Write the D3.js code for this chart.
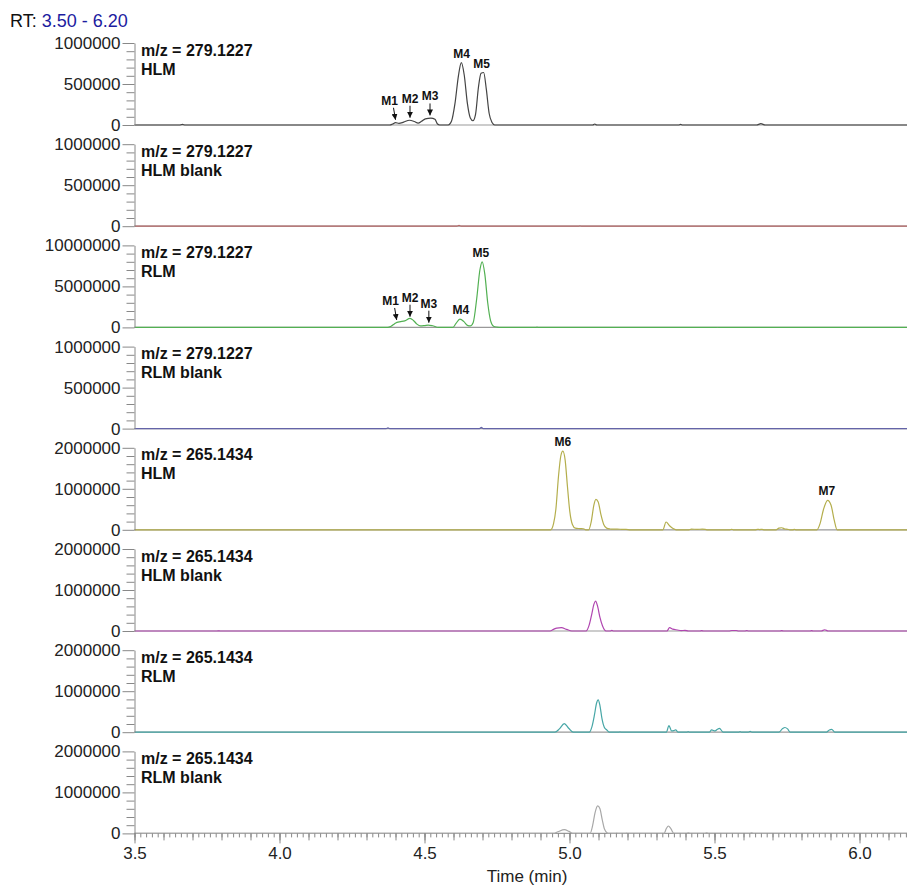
<!DOCTYPE html>
<html>
<head>
<meta charset="utf-8">
<script src="https://cdn.jsdelivr.net/npm/d3@7"></script>
<style>
  body { margin: 0; background: #fff; }
  svg { display: block; font-family: "Liberation Sans", Arial, sans-serif; }
</style>
</head>
<body>
<div id="chart"></div>
<script>
// retention time window and axis ticks
const timeRange = [3.5, 6.2];
const timeTicks = [3.5, 4.0, 4.5, 5.0, 5.5, 6.0];

// one panel per extracted ion chromatogram
const panelMass = ["m/z = 279.1227", "m/z = 279.1227", "m/z = 279.1227", "m/z = 279.1227",
  "m/z = 265.1434", "m/z = 265.1434", "m/z = 265.1434", "m/z = 265.1434"];
const panelSample = ["HLM", "HLM blank", "RLM", "RLM blank", "HLM", "HLM blank", "RLM", "RLM blank"];
const panelMax = [1000000, 1000000, 10000000, 1000000, 2000000, 2000000, 2000000, 2000000];

// traces, [time (min), intensity]
const hlm279 = [
  [3.50, 0], [3.655, 0], [3.665, 7000], [3.675, 0],
  [4.380, 0], [4.390, 12000], [4.400, 28000], [4.412, 20000], [4.428, 35000], [4.448, 58000], [4.465, 42000],
  [4.478, 22000], [4.490, 45000], [4.503, 75000], [4.522, 85000], [4.536, 70000], [4.545, 12000], [4.552, 0],
  [4.582, 0], [4.593, 45000], [4.605, 260000], [4.617, 600000], [4.627, 760000], [4.637, 610000], [4.648, 260000],
  [4.658, 85000], [4.667, 52000], [4.676, 130000], [4.686, 460000], [4.695, 630000], [4.704, 640000],
  [4.713, 440000], [4.723, 140000], [4.733, 30000], [4.742, 0],
  [5.080, 0], [5.087, 12000], [5.094, 0],
  [5.376, 0], [5.383, 7000], [5.390, 0],
  [5.645, 0], [5.660, 16000], [5.675, 0],
  [6.20, 0]
];
const hlmBlank279 = [
  [3.50, 0], [4.612, 0], [4.619, 9000], [4.626, 0], [5.030, 0], [5.036, 5000], [5.042, 0], [6.20, 0]
];
const rlm279 = [
  [3.50, 0], [4.372, 0], [4.385, 150000], [4.397, 450000], [4.405, 620000], [4.418, 700000], [4.432, 800000],
  [4.450, 1100000], [4.462, 850000], [4.474, 400000], [4.486, 180000], [4.500, 220000], [4.513, 280000],
  [4.528, 200000], [4.548, 0],
  [4.598, 0], [4.608, 450000], [4.622, 1000000], [4.636, 700000], [4.648, 250000], [4.658, 180000],
  [4.668, 600000], [4.680, 3500000], [4.691, 7000000], [4.699, 8000000], [4.708, 6500000], [4.718, 3000000],
  [4.728, 800000], [4.738, 150000], [4.750, 40000], [4.765, 0],
  [4.880, 0], [4.888, 25000], [4.896, 0],
  [5.500, 0], [5.510, 20000], [5.520, 0],
  [6.20, 0]
];
const rlmBlank279 = [
  [3.50, 0], [4.368, 0], [4.374, 8000], [4.380, 0], [4.690, 0], [4.696, 15000], [4.702, 0], [6.20, 0]
];
const hlm265 = [
  [3.50, 0], [4.935, 0], [4.945, 150000], [4.953, 500000], [4.962, 1300000], [4.970, 1800000], [4.977, 1920000],
  [4.985, 1700000], [4.993, 1050000], [5.001, 450000], [5.010, 130000], [5.020, 40000], [5.035, 30000],
  [5.048, 25000], [5.056, 0],
  [5.066, 0], [5.075, 200000], [5.084, 600000], [5.091, 740000], [5.099, 680000], [5.108, 380000],
  [5.118, 130000], [5.128, 40000], [5.140, 20000], [5.150, 15000], [5.165, 15000], [5.180, 12000],
  [5.195, 10000], [5.210, 0],
  [5.322, 0], [5.333, 190000], [5.345, 100000], [5.357, 30000], [5.368, 0],
  [5.412, 0], [5.420, 15000], [5.440, 12000], [5.458, 15000], [5.468, 10000], [5.476, 0],
  [5.553, 0], [5.559, 12000], [5.565, 0],
  [5.640, 0], [5.648, 12000], [5.656, 5000], [5.664, 12000], [5.672, 0],
  [5.712, 0], [5.722, 40000], [5.732, 50000], [5.742, 20000], [5.752, 12000], [5.760, 0],
  [5.770, 0], [5.775, 10000], [5.782, 0],
  [5.853, 0], [5.864, 150000], [5.876, 500000], [5.890, 720000], [5.902, 600000], [5.913, 230000], [5.923, 0],
  [6.20, 0]
];
const hlmBlank265 = [
  [3.50, 0], [3.785, 0], [3.790, 5000], [3.795, 0],
  [4.933, 0], [4.945, 40000], [4.956, 72000], [4.972, 80000], [4.990, 40000], [5.008, 0],
  [5.057, 0], [5.068, 150000], [5.077, 420000], [5.084, 650000], [5.090, 730000], [5.097, 600000],
  [5.105, 330000], [5.114, 120000], [5.126, 0],
  [5.140, 0], [5.146, 15000], [5.152, 0],
  [5.336, 0], [5.345, 80000], [5.356, 45000], [5.372, 25000], [5.385, 10000], [5.398, 15000], [5.410, 0],
  [5.450, 0], [5.456, 8000], [5.462, 0],
  [5.550, 0], [5.560, 12000], [5.575, 12000], [5.583, 0],
  [5.605, 0], [5.611, 10000], [5.617, 0],
  [5.726, 0], [5.732, 8000], [5.738, 0],
  [5.830, 0], [5.835, 8000], [5.840, 0],
  [5.868, 0], [5.880, 30000], [5.892, 0],
  [6.20, 0]
];
const rlm265 = [
  [3.50, 0], [4.950, 0], [4.965, 80000], [4.982, 210000], [4.998, 90000], [5.013, 0],
  [5.068, 0], [5.078, 150000], [5.086, 420000], [5.093, 700000], [5.099, 790000], [5.105, 650000],
  [5.112, 330000], [5.120, 120000], [5.128, 60000], [5.137, 0],
  [5.170, 0], [5.174, 10000], [5.178, 0],
  [5.334, 0], [5.343, 160000], [5.352, 30000], [5.360, 40000], [5.366, 55000], [5.375, 0],
  [5.404, 0], [5.409, 15000], [5.414, 0],
  [5.482, 0], [5.490, 55000], [5.502, 30000], [5.510, 70000], [5.517, 95000], [5.530, 0],
  [5.582, 0], [5.588, 12000], [5.594, 0],
  [5.617, 0], [5.623, 18000], [5.629, 0],
  [5.722, 0], [5.735, 90000], [5.743, 115000], [5.752, 80000], [5.761, 0],
  [5.886, 0], [5.896, 55000], [5.904, 70000], [5.916, 0],
  [6.20, 0]
];
const rlmBlank265 = [
  [3.50, 0], [4.944, 0], [4.960, 40000], [4.982, 90000], [4.998, 50000], [5.011, 0],
  [5.071, 0], [5.080, 200000], [5.088, 500000], [5.097, 670000], [5.105, 600000], [5.113, 330000],
  [5.121, 100000], [5.134, 0],
  [5.158, 0], [5.163, 10000], [5.168, 0],
  [5.192, 0], [5.197, 8000], [5.202, 0],
  [5.326, 0], [5.334, 120000], [5.341, 180000], [5.350, 110000], [5.360, 0],
  [5.404, 0], [5.410, 15000], [5.416, 0],
  [5.467, 0], [5.473, 15000], [5.479, 0],
  [5.622, 0], [5.628, 12000], [5.634, 0],
  [6.20, 0]
];
const traces = [hlm279, hlmBlank279, rlm279, rlmBlank279, hlm265, hlmBlank265, rlm265, rlmBlank265];

// metabolite peak labels
const peakLabels = [
  { panel: 0, name: "M1", t: 4.400, v: 27000, arrow: true },
  { panel: 0, name: "M2", t: 4.450, v: 52000, arrow: true },
  { panel: 0, name: "M3", t: 4.519, v: 80000, arrow: true },
  { panel: 0, name: "M4", t: 4.628, v: 760000, arrow: false },
  { panel: 0, name: "M5", t: 4.697, v: 640000, arrow: false },
  { panel: 2, name: "M1", t: 4.404, v: 540000, arrow: true },
  { panel: 2, name: "M2", t: 4.450, v: 940000, arrow: true },
  { panel: 2, name: "M3", t: 4.515, v: 210000, arrow: true },
  { panel: 2, name: "M4", t: 4.625, v: 1000000, arrow: false },
  { panel: 2, name: "M5", t: 4.694, v: 8000000, arrow: false },
  { panel: 4, name: "M6", t: 4.977, v: 1920000, arrow: false },
  { panel: 4, name: "M7", t: 5.887, v: 720000, arrow: false }
];

const traceColors = ["#444444", "#b86a6a", "#52b052", "#6464a8", "#b4ae4c", "#b045b0", "#46a6a6", "#a8a8a8"];

const W = 907, H = 885;
const firstBaseline = 125, panelStep = 101.2, panelHeight = 82;

const svg = d3.select("#chart").append("svg").attr("width", W).attr("height", H);

const x = d3.scaleLinear().domain(timeRange).range([134.5, 134.5 + 290 * (timeRange[1] - timeRange[0])]);

// RT header
const rt = svg.append("text").attr("x", 10).attr("y", 27).attr("font-size", "18px").attr("fill", "#111");
rt.append("tspan").text("RT:");
rt.append("tspan").attr("fill", "#1c1ca0").text(" 3.50 - 6.20");

const line = d3.line().curve(d3.curveMonotoneX);
const yScales = [];

panelMax.forEach((max, i) => {
  const base = firstBaseline + i * panelStep;
  const y = d3.scaleLinear().domain([0, max]).range([base, base - panelHeight]);
  yScales.push(y);
  const g = svg.append("g").attr("class", "panel");

  g.append("line")
    .attr("x1", x(timeRange[0]))
    .attr("x2", x(timeRange[1]))
    .attr("y1", y(0))
    .attr("y2", y(0))
    .attr("stroke", "#999")
    .attr("stroke-width", 1.2);

  g.append("path")
    .attr("d", line.x((d) => x(d[0])).y((d) => y(d[1]))(traces[i]))
    .attr("fill", "none")
    .attr("stroke", traceColors[i])
    .attr("stroke-width", 1.2)
    .attr("stroke-linejoin", "round");

  // minor ticks
  g.append("g")
    .attr("transform", `translate(${x(timeRange[0])},0)`)
    .call(
      d3.axisLeft(y)
        .tickValues(d3.range(1, 10).filter((k) => k !== 5).map((k) => (k * max) / 10))
        .tickSize(8)
        .tickFormat("")
    )
    .call((a) => a.select(".domain").remove());

  g.append("g")
    .attr("class", "yaxis")
    .attr("transform", `translate(${x(timeRange[0])},0)`)
    .call(
      d3.axisLeft(y)
        .tickValues([0, max / 2, max])
        .tickSize(12)
        .tickSizeOuter(0)
        .tickPadding(2)
        .tickFormat(d3.format("d"))
    );

  g.append("text")
    .attr("x", 141)
    .attr("y", y(max) + 12.5)
    .attr("font-size", "16px")
    .attr("font-weight", "bold")
    .attr("fill", "#111")
    .text(panelMass[i]);

  g.append("text")
    .attr("x", 141)
    .attr("y", y(max) + 31.5)
    .attr("font-size", "16px")
    .attr("font-weight", "bold")
    .attr("fill", "#111")
    .text(panelSample[i]);
});

svg.selectAll(".tick line, .domain").attr("stroke", "#888");
svg.selectAll(".yaxis text").attr("font-size", "17px").attr("fill", "#222").attr("font-family", null);

// bottom time axis
const lastBase = firstBaseline + (panelMax.length - 1) * panelStep;
const xAxisG = svg.append("g").attr("transform", `translate(0,${lastBase})`);
xAxisG.append("g")
  .call(d3.axisBottom(x).tickValues(d3.range(175, 311).map((k) => k / 50)).tickSize(4).tickFormat(""))
  .call((a) => a.select(".domain").remove());
xAxisG.append("g")
  .call(d3.axisBottom(x).tickValues(d3.range(35, 63).map((k) => k / 10)).tickSize(7).tickFormat(""))
  .call((a) => a.select(".domain").remove());
xAxisG.append("g")
  .attr("class", "xaxis")
  .call(d3.axisBottom(x).tickValues(timeTicks).tickSize(10).tickPadding(4).tickFormat(d3.format(".1f")))
  .call((a) => a.select(".domain").remove());
xAxisG.selectAll(".tick line").attr("stroke", "#888");
xAxisG.selectAll(".xaxis text").attr("font-size", "17px").attr("fill", "#222").attr("font-family", null);

svg.append("text")
  .attr("x", 527)
  .attr("y", 882)
  .attr("text-anchor", "middle")
  .attr("font-size", "17px")
  .attr("fill", "#222")
  .text("Time (min)");

// peak annotations
svg.append("defs")
  .append("marker")
  .attr("id", "arrowhead")
  .attr("viewBox", "0 0 6 6")
  .attr("refX", 6)
  .attr("refY", 3)
  .attr("markerWidth", 6)
  .attr("markerHeight", 6)
  .attr("markerUnits", "userSpaceOnUse")
  .attr("orient", "auto")
  .append("path")
  .attr("d", "M0,0L6,3L0,6Z")
  .attr("fill", "#111");

const lean = { M1: -2 };
const ann = svg.append("g").attr("class", "annotations");
peakLabels.forEach((p) => {
  const y = yScales[p.panel];
  const px = x(p.t);
  if (p.arrow) {
    const tip = y(p.v) - 3;
    const dx = lean[p.name] || 0;
    ann.append("line")
      .attr("x1", px + dx)
      .attr("y1", tip - 12)
      .attr("x2", px)
      .attr("y2", tip)
      .attr("stroke", "#111")
      .attr("stroke-width", 1)
      .attr("marker-end", "url(#arrowhead)");
    ann.append("text")
      .attr("x", px + dx * 3)
      .attr("y", tip - 15)
      .attr("text-anchor", "middle")
      .attr("font-size", "12px")
      .attr("font-weight", "bold")
      .attr("fill", "#111")
      .text(p.name);
  } else {
    ann.append("text")
      .attr("x", px)
      .attr("y", y(p.v) - 5)
      .attr("text-anchor", "middle")
      .attr("font-size", "12px")
      .attr("font-weight", "bold")
      .attr("fill", "#111")
      .text(p.name);
  }
});
</script>
</body>
</html>
